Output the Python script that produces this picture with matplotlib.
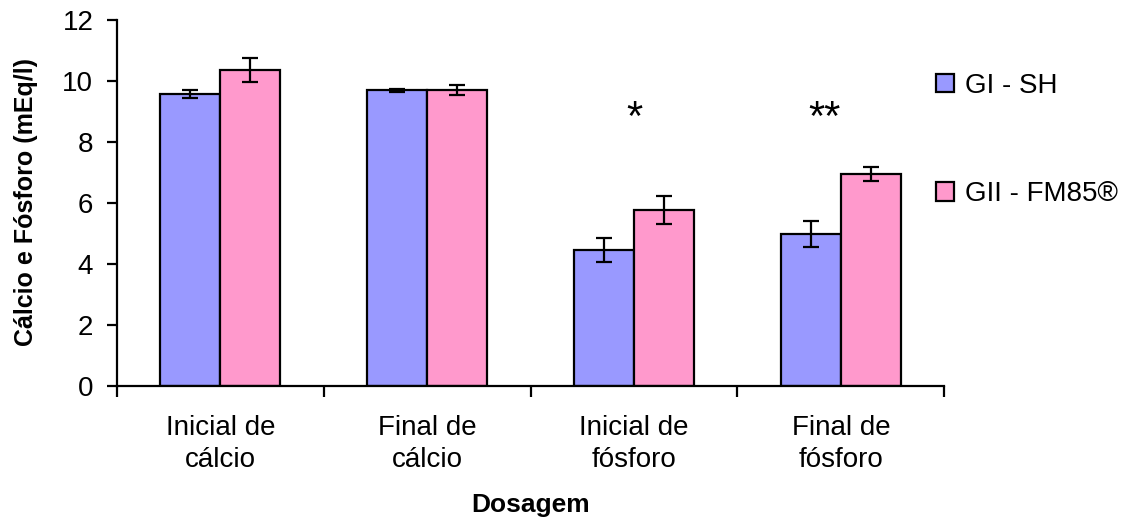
import matplotlib.pyplot as plt
import numpy as np

plt.rcParams['font.family'] = ['Liberation Sans', 'DejaVu Sans']

categorias = ["Inicial de\ncálcio", "Final de\ncálcio", "Inicial de\nfósforo", "Final de\nfósforo"]
grupos = ["GI - SH", "GII - FM85®"]
media_gi = [9.57, 9.70, 4.46, 4.98]
erro_gi = [0.13, 0.05, 0.39, 0.43]
media_gii = [10.36, 9.70, 5.77, 6.95]
erro_gii = [0.38, 0.16, 0.46, 0.23]
asteriscos = ["", "", "*", "**"]

cor_gi = "#9999FF"
cor_gii = "#FF99CC"

fig = plt.figure(figsize=(11.46, 5.2), dpi=100)
ax = fig.add_axes([0.102, 0.2577, 0.722, 0.7038])

x = np.arange(len(categorias))
largura = 0.29

ax.bar(x - largura / 2, media_gi, largura, color=cor_gi, edgecolor='black',
       linewidth=1.6, label=grupos[0], zorder=2)
ax.bar(x + largura / 2, media_gii, largura, color=cor_gii, edgecolor='black',
       linewidth=1.6, label=grupos[1], zorder=2)

ax.errorbar(x - largura / 2, media_gi, yerr=erro_gi, fmt='none', ecolor='black',
            elinewidth=1.6, capsize=6, capthick=1.6, zorder=3)
ax.errorbar(x + largura / 2, media_gii, yerr=erro_gii, fmt='none', ecolor='black',
            elinewidth=1.6, capsize=6, capthick=1.6, zorder=3)

# marcas de significancia
for i, s in enumerate(asteriscos):
    if s:
        desloc = -0.08 if len(s) > 1 else 0.0
        ax.text(x[i] + desloc, 8.75, s, ha='center', va='center', fontsize=30)

ax.set_xlim(-0.5, len(categorias) - 0.5)
ax.set_ylim(0, 12)
ax.set_yticks(np.arange(0, 13, 2))

# ticks do eixo x nas divisas entre categorias
ax.set_xticks(np.arange(-0.5, len(categorias), 1.0))
ax.set_xticklabels([])
ax.set_xticks(x, minor=True)
ax.set_xticklabels(categorias, minor=True, fontsize=20, linespacing=1.3)
ax.tick_params(axis='x', which='minor', length=0, pad=21)
ax.tick_params(axis='x', which='major', length=8, width=1.6, direction='out')
ax.tick_params(axis='y', length=7, width=1.6, direction='out', labelsize=20, pad=10)

ax.spines['top'].set_visible(False)
ax.spines['right'].set_visible(False)
ax.spines['left'].set_linewidth(1.6)
ax.spines['bottom'].set_linewidth(1.6)

fig.text(0.4633, 0.029, "Dosagem", ha='center', va='center', fontsize=19, fontweight='bold')
fig.text(0.023, 1 - 202 / 520, "Cálcio e Fósforo (mEq/l)", ha='center', va='center',
         rotation=90, fontsize=18, fontweight='bold')

ax.legend(loc='upper left', bbox_to_anchor=(0.795, 0.908), bbox_transform=fig.transFigure,
          frameon=False, fontsize=20, handlelength=0.65, handleheight=0.65,
          handletextpad=0.4, labelspacing=2.97)

fig.savefig("out.png", dpi=100)
